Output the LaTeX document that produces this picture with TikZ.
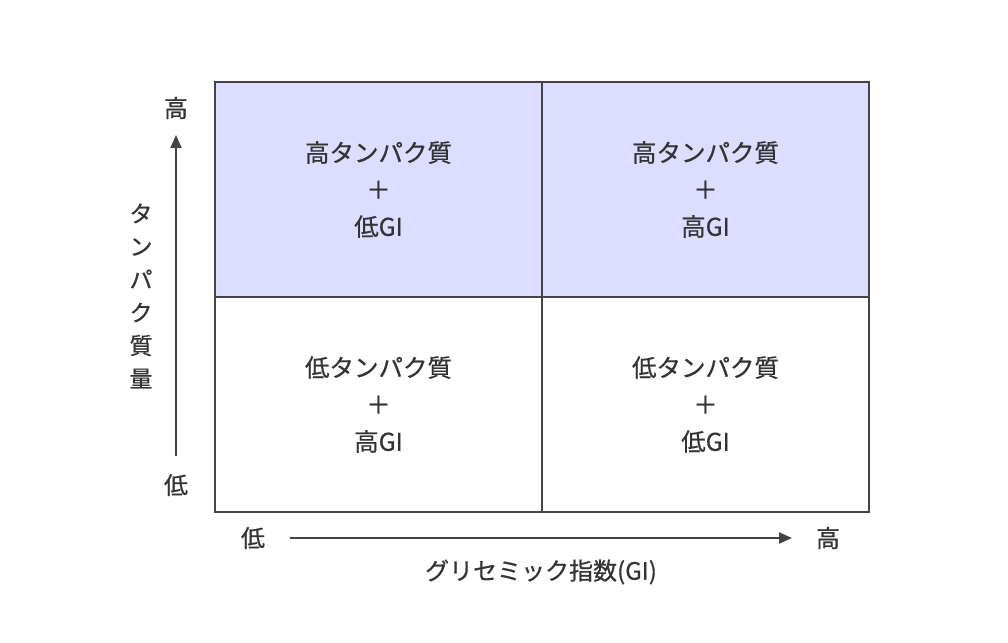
\documentclass[tikz,border=0pt]{standalone}
\usepackage{fontspec}
\setmainfont{Noto Sans CJK JP}[FakeBold=0.6]
\usetikzlibrary{arrows.meta}
\definecolor{cellfill}{HTML}{DDDDFF}
\definecolor{linec}{HTML}{444444}
\definecolor{txt}{HTML}{333333}
\begin{document}
\begin{tikzpicture}[x=1pt,y=-1pt,
  cell/.style={draw=linec,line width=2pt,minimum width=327pt,minimum height=215pt,inner sep=0pt,anchor=north west},
  celltext/.style={text=txt,font=\fontsize{24.5}{37}\selectfont,align=center},
  axlabel/.style={text=txt,font=\fontsize{24}{24}\selectfont,inner sep=0pt},
  axarrow/.style={draw=linec,line width=2pt,-{Triangle[length=13pt,width=11pt]}}]
\useasboundingbox (0,0) rectangle (1008,642);
\node[cell,fill=cellfill] (c11) at (214,81) {};
\node[cell,fill=cellfill] (c12) at (541,81) {};
\node[cell] (c21) at (214,296) {};
\node[cell] (c22) at (541,296) {};
\node[celltext] at (c11.center) {高タンパク質\\＋\\低GI};
\node[celltext] at (c12.center) {高タンパク質\\＋\\高GI};
\node[celltext] at (c21.center) {低タンパク質\\＋\\高GI};
\node[celltext] at (c22.center) {低タンパク質\\＋\\低GI};
% y axis
\node[axlabel] (yhi) at (176,108) {高};
\node[axlabel] (ylo) at (176,485) {低};
\coordinate (ys) at (176,456);
\coordinate (ye) at (176,135);
\draw[axarrow] (ys) -- (ye);
\node[axlabel,align=center,font=\fontsize{23}{33}\selectfont] (ylab) at (141,296) {タ\\ン\\パ\\ク\\質\\量};
% x axis
\node[axlabel] (xlo) at (253,538) {低};
\node[axlabel] (xhi) at (828,538) {高};
\coordinate (xs) at (290,538);
\coordinate (xe) at (792,538);
\draw[axarrow] (xs) -- (xe);
\node[axlabel] (xlab) at (541,572) {グリセミック指数(GI)};
\end{tikzpicture}
\end{document}
